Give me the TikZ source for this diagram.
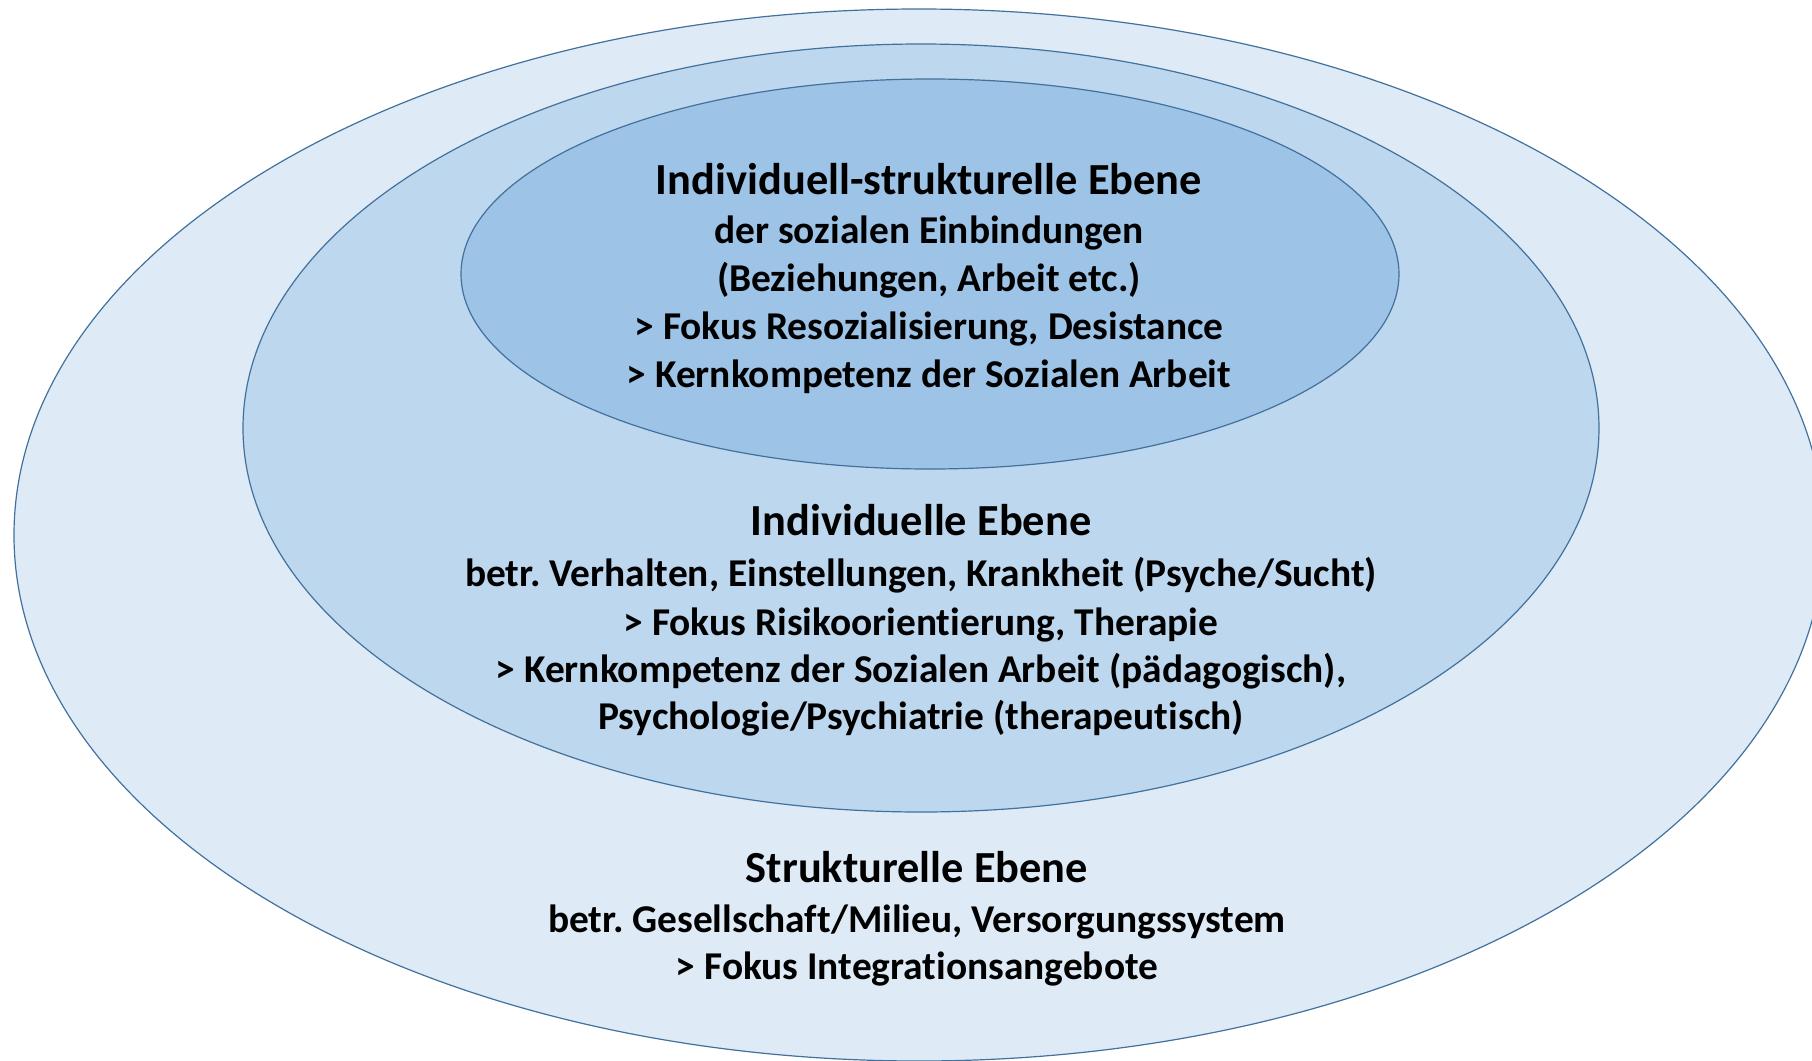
\documentclass[tikz,border=0pt]{standalone}
\usepackage{fontspec}
\setmainfont{Carlito}[RawFeature={-liga}]
\frenchspacing
\definecolor{ringA}{HTML}{DEEBF7}
\definecolor{ringB}{HTML}{BDD7EE}
\definecolor{ringC}{HTML}{9DC3E6}
\definecolor{rim}{HTML}{41719C}
\begin{document}
\begin{tikzpicture}[x=0.5pt,y=-0.5pt,
  ring/.style={draw=rim,line width=0.6pt},
  body/.style={anchor=mid,inner sep=0pt,font=\bfseries\fontsize{19.7}{24}\selectfont},
  head/.style={anchor=mid,inner sep=0pt,font=\bfseries\fontsize{22.2}{26}\selectfont}]
\useasboundingbox (0,0) rectangle (1812,1061);
\fill[white] (0,0) rectangle (1812,1061);
\path[ring,fill=ringA] (919,535) ellipse [x radius=905, y radius=526];
\path[ring,fill=ringB] (921,428) ellipse [x radius=678, y radius=384];
\path[ring,fill=ringC] (930,274) ellipse [x radius=469, y radius=195];
% inner
\node[head] (i1) at (929,190) {Individuell-strukturelle Ebene};
\node[body] (i2) at (929,239) {der sozialen Einbindungen};
\node[body] (i3) at (929,287) {(Beziehungen, Arbeit etc.)};
\node[body] (i4) at (929,335) {> Fokus Resozialisierung, Desistance};
\node[body] (i5) at (929,383) {> Kernkompetenz der Sozialen Arbeit};
% middle
\node[head] (m1) at (921,531) {Individuelle Ebene};
\node[body] (m2) at (921,582) {betr. Verhalten, Einstellungen, Krankheit (Psyche/Sucht)};
\node[body] (m3) at (921,631) {> Fokus Risikoorientierung, Therapie};
\node[body] (m4) at (921,678) {> Kernkompetenz der Sozialen Arbeit (pädagogisch),};
\node[body] (m5) at (921,725) {Psychologie/Psychiatrie (therapeutisch)};
% outer
\node[head] (o1) at (917,878) {Strukturelle Ebene};
\node[body] (o2) at (917,928) {betr. Gesellschaft/Milieu, Versorgungssystem};
\node[body] (o3) at (917,975) {> Fokus Integrationsangebote};
\end{tikzpicture}
\end{document}
